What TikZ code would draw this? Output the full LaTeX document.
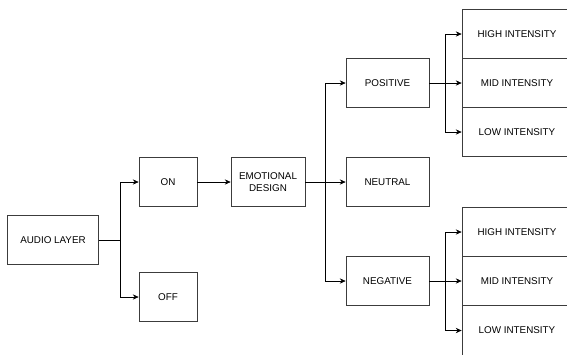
\documentclass[tikz,border=0pt]{standalone}
\usepackage{fontspec}
\setmainfont{Liberation Sans}
\usetikzlibrary{arrows.meta,positioning}
\definecolor{boxline}{RGB}{60,60,60}

\begin{document}
\begin{tikzpicture}[x=0.03cm,y=-0.03cm,>={Stealth[length=5pt,width=4.5pt]},
  font=\fontsize{8.4}{10}\selectfont,
  box/.style={draw=boxline,line width=0.6pt,minimum height=1.47cm,align=center,inner sep=2pt},
  ibox/.style={box,minimum width=3.3cm,minimum height=1.49cm},
  conn/.style={->,line width=0.6pt}]
  \clip (0,0) rectangle (567,354);
  % first level
  \node[box,minimum width=2.73cm] (audio) at (53,240) {AUDIO LAYER};
  \node[box,minimum width=1.74cm] (on) at (168,182) {ON};
  \node[box,minimum width=1.74cm] (off) at (168,297) {OFF};
  \node[box,minimum width=2.22cm] (emo) at (268,182) {EMOTIONAL\\DESIGN};
  % emotions
  \node[box,minimum width=2.49cm] (pos) at (387.5,83) {POSITIVE};
  \node[box,minimum width=2.49cm] (neu) at (387.5,182) {NEUTRAL};
  \node[box,minimum width=2.49cm] (neg) at (387.5,281) {NEGATIVE};
  % intensities
  \node[ibox] (phigh) at (517,34) {HIGH INTENSITY};
  \node[ibox] (pmid) at (517,83) {MID INTENSITY};
  \node[ibox] (plow) at (517,132) {LOW INTENSITY};
  \node[ibox] (nhigh) at (517,232) {HIGH INTENSITY};
  \node[ibox] (nmid) at (517,281) {MID INTENSITY};
  \node[ibox] (nlow) at (517,330.5) {LOW INTENSITY};
  % connectors
  \draw[conn] (audio.east) -- +(21,0) |- (on.west);
  \draw[conn] (audio.east) -- +(21,0) |- (off.west);
  \draw[conn] (on) -- (emo);
  \draw[conn] (emo.east) -- +(20,0) |- (pos.west);
  \draw[conn] (emo) -- (neu);
  \draw[conn] (emo.east) -- +(20,0) |- (neg.west);
  \draw[conn] (pos.east) -- +(16,0) |- (phigh.west);
  \draw[conn] (pos) -- (pmid);
  \draw[conn] (pos.east) -- +(16,0) |- (plow.west);
  \draw[conn] (neg.east) -- +(16,0) |- (nhigh.west);
  \draw[conn] (neg) -- (nmid);
  \draw[conn] (neg.east) -- +(16,0) |- (nlow.west);
\end{tikzpicture}
\end{document}
